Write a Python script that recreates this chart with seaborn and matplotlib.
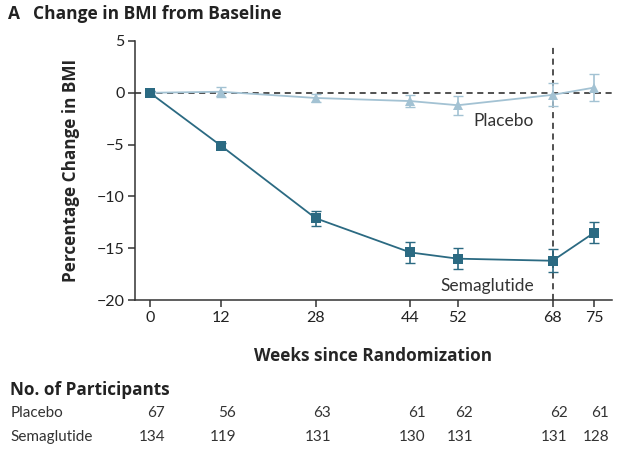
import matplotlib.pyplot as plt
import matplotlib.transforms as mtransforms
import seaborn as sns
import pandas as pd

weeks = [0, 12, 28, 44, 52, 68, 75]
sema_change = [0.0, -5.1, -12.1, -15.4, -16.0, -16.2, -13.5]
sema_err = [0.2, 0.3, 0.7, 1.0, 1.0, 1.1, 1.0]
placebo_change = [0.0, 0.1, -0.5, -0.8, -1.2, -0.2, 0.5]
placebo_err = [0.2, 0.5, 0.4, 0.6, 0.9, 1.1, 1.3]
placebo_n = [67, 56, 63, 61, 62, 62, 61]
sema_n = [134, 119, 131, 130, 131, 131, 128]

sema_color = "#2b6a82"
placebo_color = "#a3c2d3"
bold_font = ["Open Sans", "DejaVu Sans"]

df = pd.concat([
    pd.DataFrame({"Week": weeks, "Change": placebo_change, "Group": "Placebo"}),
    pd.DataFrame({"Week": weeks, "Change": sema_change, "Group": "Semaglutide"}),
])

sns.set_style("ticks")
plt.rcParams["font.family"] = ["Lato", "DejaVu Sans"]

fig = plt.figure(figsize=(6.34, 4.5), dpi=100)
ax = fig.add_axes([0.213, 0.333, 0.752, 0.576])

ax.axhline(0, color="#222222", lw=1.1, ls=(0, (4, 3)), zorder=1)
ax.axvline(68, color="#222222", lw=1.1, ls=(0, (4, 3)), ymax=0.99, zorder=1)

sns.lineplot(df, x="Week", y="Change", hue="Group", style="Group",
             palette={"Placebo": placebo_color, "Semaglutide": sema_color},
             markers={"Placebo": "^", "Semaglutide": "s"}, dashes=False,
             markersize=7, markeredgewidth=0, lw=1.3, legend=False, ax=ax, zorder=3)
ax.errorbar(weeks, placebo_change, yerr=placebo_err, fmt="none",
            ecolor=placebo_color, elinewidth=1.2, capsize=3.5, zorder=2)
ax.errorbar(weeks, sema_change, yerr=sema_err, fmt="none",
            ecolor=sema_color, elinewidth=1.2, capsize=3.5, zorder=2)

ax.set_xlim(-2.5, 78)
ax.set_ylim(-20, 5)
ax.set_xticks(weeks)
ax.set_yticks([5, 0, -5, -10, -15, -20])
ax.set_yticklabels(["5", "0", "\u22125", "\u221210", "\u221215", "\u221220"])
ax.tick_params(labelsize=11.5, length=5, width=1.1, pad=2.5, color="#333333", labelcolor="#222222")
for s in ["top", "right"]:
    ax.spines[s].set_visible(False)
for s in ["left", "bottom"]:
    ax.spines[s].set_linewidth(1.1)
    ax.spines[s].set_color("#333333")

ax.set_xlabel("Weeks since Randomization", fontsize=12.3, fontweight="bold",
              family=bold_font, labelpad=16)
ax.set_ylabel("Percentage Change in BMI", fontsize=12.3, fontweight="bold",
              family=bold_font, labelpad=12)

ax.text(59.7, -2.7, "Placebo", fontsize=12.5, color="#333333", ha="center", va="center")
ax.text(57, -18.6, "Semaglutide", fontsize=12.5, color="#333333", ha="center", va="center")

fig.text(0.012, 0.968, "A", fontsize=12.5, fontweight="bold", family=bold_font,
         color="#222222", va="center")
fig.text(0.052, 0.968, "Change in BMI from Baseline", fontsize=12.5, fontweight="bold",
         family=bold_font, color="#222222", va="center")

fig.text(0.016, 0.134, "No. of Participants", fontsize=12.3, fontweight="bold",
         family=bold_font, color="#222222", va="center")
fig.text(0.016, 0.082, "Placebo", fontsize=11, color="#333333", va="center")
fig.text(0.016, 0.029, "Semaglutide", fontsize=11, color="#333333", va="center")
trans = mtransforms.blended_transform_factory(ax.transData, fig.transFigure)
shift = mtransforms.ScaledTranslation(11 / 72, 0, fig.dpi_scale_trans)
for w, p, s in zip(weeks, placebo_n, sema_n):
    ax.text(w, 0.082, str(p), transform=trans + shift, fontsize=11, color="#333333",
            ha="right", va="center")
    ax.text(w, 0.029, str(s), transform=trans + shift, fontsize=11, color="#333333",
            ha="right", va="center")

fig.savefig("out.png", dpi=100)
